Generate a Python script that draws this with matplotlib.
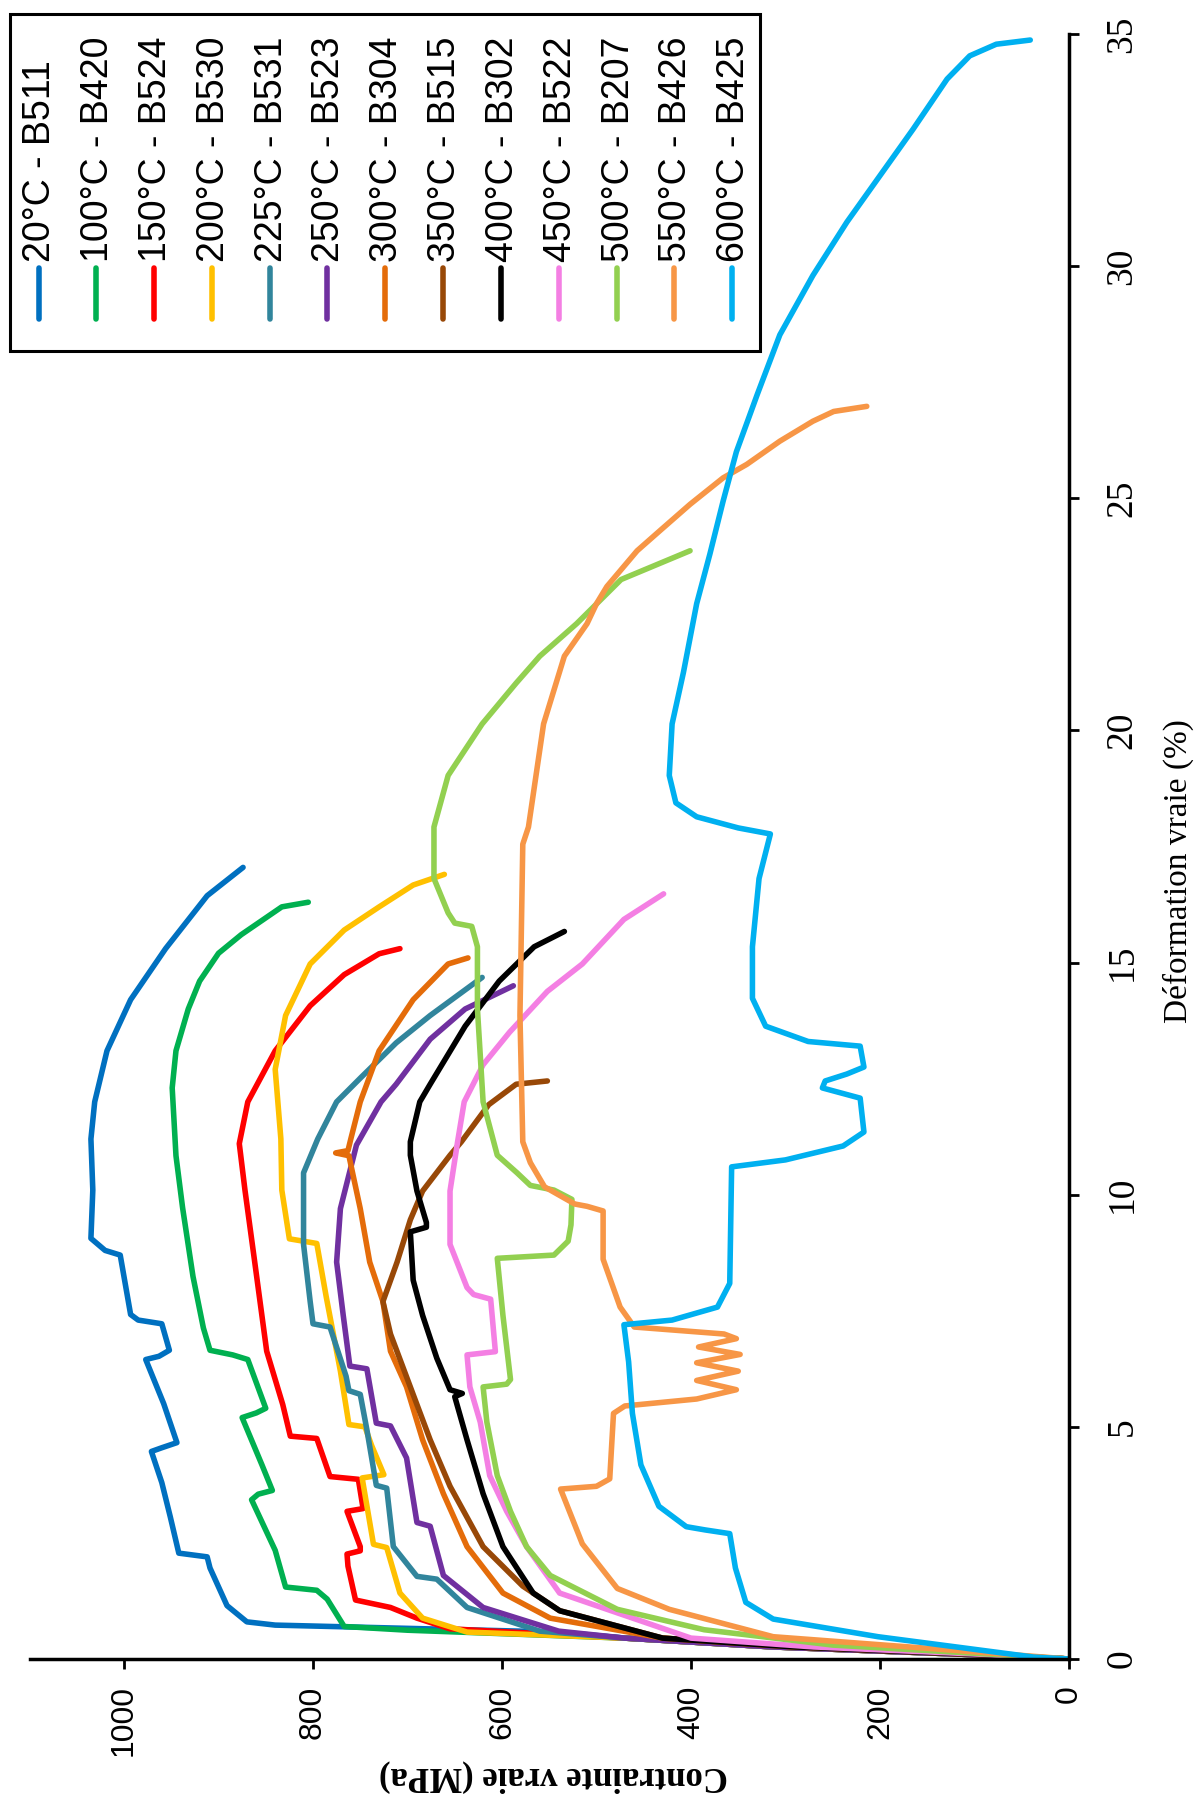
import matplotlib
matplotlib.use("Agg")
import matplotlib.pyplot as plt
from matplotlib.lines import Line2D
from matplotlib.patches import Rectangle

# ---- data : true strain (%) / true stress (MPa) ----
eps_20 = [0, 0.1, 0.26, 0.45, 0.58, 0.73, 0.8, 1.15, 1.96, 2.2, 2.28, 3.06, 3.8, 4.47, 4.55, 4.66, 5.5, 6.45, 6.52, 6.65,
          7.22, 7.3, 7.42, 8.7, 8.8, 9.06, 10.1, 11.2, 12.0, 13.1, 14.2, 15.3, 16.44, 17.05]
sig_20 = [0, 110, 313, 470, 540, 840, 870, 891, 909, 912, 942, 951, 960, 971, 960, 944, 958, 977, 963, 952,
          960, 985, 993, 1004, 1020, 1035, 1033, 1035, 1031, 1018, 993, 956, 912, 874]

eps_100 = [0, 0.1, 0.26, 0.45, 0.62, 0.7, 1.29, 1.48, 1.55, 2.34, 3.43, 3.55, 3.63, 4.18, 5.2, 5.3, 5.4, 6.45, 6.55, 6.65,
           7.13, 8.24, 9.72, 10.84, 11.57, 12.3, 13.1, 14.0, 14.6, 15.2, 15.6, 16.2, 16.3]
sig_100 = [0, 110, 313, 470, 700, 767, 785, 796, 829, 840, 865, 858, 843, 854, 875, 860, 850, 869, 885, 909,
           916, 927, 938, 945, 947, 949, 945, 932, 920, 900, 876, 833, 805]

eps_150 = [0, 0.1, 0.26, 0.45, 0.65, 0.88, 1.11, 1.27, 2.0, 2.26, 2.33, 2.42, 3.18, 3.24, 3.87, 3.93, 4.75, 4.8, 5.48, 6.63,
           8.6, 10.1, 11.1, 12.0, 13.1, 14.07, 14.74, 15.19, 15.3]
sig_150 = [0, 110, 313, 470, 655, 690, 718, 755, 763, 764, 750, 750, 764, 747, 752, 782, 796, 824, 832, 849,
           862, 872, 878, 869, 840, 803, 767, 730, 708]

eps_200 = [0, 0.1, 0.26, 0.45, 0.58, 0.88, 1.42, 2.4, 2.47, 3.9, 3.97, 4.6, 5.0, 5.05, 6.2, 7.8, 8.95, 9.05, 10.1, 11.2,
           12.7, 13.86, 14.97, 15.7, 16.2, 16.67, 16.9]
sig_200 = [0, 110, 313, 470, 637, 684, 708, 722, 736, 748, 725, 738, 745, 762, 771, 786, 796, 825, 833, 834,
           840, 829, 803, 767, 730, 694, 661]

eps_225 = [0, 0.1, 0.26, 0.45, 0.6, 1.11, 1.72, 1.78, 2.42, 3.68, 3.74, 4.94, 5.7, 5.78, 6.09, 7.15, 7.22, 7.7, 8.93, 10.47,
           11.2, 12.0, 12.53, 13.27, 13.86, 14.68]
sig_225 = [0, 110, 313, 470, 560, 637, 669, 690, 715, 722, 733, 743, 750, 762, 765, 782, 800, 803, 810, 810,
           795, 775, 749, 712, 676, 621]

eps_250 = [0, 0.1, 0.26, 0.45, 0.6, 1.11, 1.8, 2.86, 2.94, 4.33, 5.02, 5.08, 6.25, 6.31, 7.4, 8.55, 9.7, 11.07, 12.0, 12.38,
           13.35, 14.0, 14.5]
sig_250 = [0, 110, 313, 470, 540, 620, 662, 676, 690, 701, 718, 733, 743, 761, 768, 775, 771, 754, 728, 712,
           676, 639, 588]

eps_300 = [0, 0.1, 0.26, 0.45, 0.88, 1.42, 2.42, 3.56, 4.72, 5.86, 6.63, 7.7, 8.55, 9.7, 10.84, 10.9, 10.95, 11.2, 12.0, 13.1,
           14.2, 14.97, 15.1]
sig_300 = [0, 100, 290, 430, 549, 599, 637, 662, 684, 701, 718, 726, 740, 750, 762, 776, 763, 760, 750, 730,
           694, 657, 636]

eps_350 = [0, 0.1, 0.26, 0.45, 1.04, 1.57, 2.42, 3.72, 4.72, 5.86, 7.0, 7.7, 8.55, 9.46, 10.08, 10.85, 11.14, 11.94, 12.38, 12.45]
sig_350 = [0, 100, 290, 430, 539, 578, 620, 655, 676, 697, 718, 726, 711, 697, 684, 655, 643, 614, 585, 552]

eps_400 = [0, 0.1, 0.26, 0.45, 1.04, 1.42, 2.42, 3.56, 4.72, 5.65, 5.72, 5.8, 6.48, 7.4, 8.16, 9.2, 9.3, 9.4, 10.08, 10.85,
           11.14, 12.0, 12.38, 13.63, 14.6, 15.34, 15.67]
sig_400 = [0, 100, 290, 430, 539, 567, 599, 620, 637, 650, 642, 655, 669, 684, 694, 697, 680, 680, 690, 697,
           697, 687, 676, 639, 603, 566, 534]

eps_450 = [0, 0.1, 0.26, 0.45, 1.42, 2.42, 3.18, 3.95, 5.1, 5.86, 6.55, 6.62, 7.75, 7.85, 8.0, 8.93, 10.08, 11.14, 12.0, 12.8,
           13.5, 14.38, 14.97, 15.93, 16.48]
sig_450 = [0, 90, 270, 400, 539, 574, 595, 613, 623, 634, 637, 607, 612, 630, 637, 655, 655, 647, 640, 620,
           592, 552, 515, 471, 429]

eps_500 = [0, 0.1, 0.3, 0.63, 1.07, 1.8, 2.42, 3.18, 3.95, 5.1, 5.86, 5.92, 6.02, 7.4, 8.63, 8.7, 9.0, 9.35, 9.9, 10.1,
           10.2, 10.47, 10.85, 12.0, 14.0, 15.34, 15.78, 15.85, 16.07, 16.81, 17.92, 19.03, 20.14, 21.02, 21.6, 22.3,
           23.25, 23.87]
sig_500 = [0, 80, 250, 386, 478, 549, 574, 591, 605, 616, 620, 595, 591, 599, 605, 545, 530, 527, 526, 545,
           570, 584, 605, 620, 626, 626, 632, 650, 657, 672, 672, 657, 621, 585, 560, 521,
           474, 401]

eps_550 = [0, 0.2, 0.48, 1.07, 1.52, 2.48, 3.66, 3.72, 3.88, 5.29, 5.45, 5.6, 5.8, 6.0, 6.2, 6.38, 6.56, 6.72, 6.9, 7.0,
           7.15, 7.58, 8.61, 9.65, 9.75, 9.8, 10.17, 10.69, 11.14, 13.86, 17.55, 17.92, 20.14, 21.6, 22.3, 22.73,
           23.1, 23.87, 24.3, 24.87, 25.44, 25.73, 26.23, 26.66, 26.87, 26.98]
sig_550 = [0, 130, 313, 423, 478, 515, 538, 500, 486, 482, 470, 394, 352, 394, 350, 394, 348, 392, 352, 365,
           460, 475, 493, 493, 510, 523, 555, 570, 578, 581, 578, 572, 556, 534, 510, 500,
           489, 457, 433, 401, 366, 341, 306, 271, 249, 214]

eps_600 = [0, 0.04, 0.48, 0.86, 1.22, 1.96, 2.7, 2.78, 2.85, 3.29, 4.18, 5.29, 6.4, 7.2, 7.3, 7.58, 8.09, 10.6, 10.75, 11.05,
           11.35, 12.08, 12.3, 12.45, 12.6, 12.75, 13.2, 13.3, 13.63, 14.23, 15.34, 16.81, 17.77, 17.9, 18.14, 18.44,
           19.03, 20.14, 21.25, 22.73, 23.8, 24.94, 26.0, 27.23, 28.52, 29.8, 30.95, 31.95, 32.95, 34.03, 34.53,
           34.78, 34.87]
sig_600 = [0, 37, 202, 313, 342, 353, 359, 385, 405, 434, 453, 462, 466, 471, 420, 372, 359, 357, 300, 239,
           217, 221, 261, 258, 235, 217, 221, 276, 321, 335, 335, 328, 316, 350, 394, 416,
           423, 420, 408, 394, 380, 366, 352, 330, 306, 271, 235, 200, 165, 129, 105,
           77, 41]

labels = ['20°C - B511', '100°C - B420', '150°C - B524', '200°C - B530', '225°C - B531', '250°C - B523',
          '300°C - B304', '350°C - B515', '400°C - B302', '450°C - B522', '500°C - B207', '550°C - B426',
          '600°C - B425']
colors = ['#0070C0', '#00B050', '#FF0000', '#FFC000', '#31859C', '#7030A0', '#E46C0A', '#984807',
          '#000000', '#F47FE3', '#92D050', '#F79646', '#00B0F0']

curves = [(eps_20, sig_20), (eps_100, sig_100), (eps_150, sig_150), (eps_200, sig_200), (eps_225, sig_225),
          (eps_250, sig_250), (eps_300, sig_300), (eps_350, sig_350), (eps_400, sig_400), (eps_450, sig_450),
          (eps_500, sig_500), (eps_550, sig_550), (eps_600, sig_600)]

SERIF = ['Liberation Serif', 'DejaVu Serif']
SANS = ['Liberation Sans', 'DejaVu Sans']

W, H = 1194, 1796
fig = plt.figure(figsize=(W / 100, H / 100), dpi=100)

# the chart is drawn "rotated": stress runs right->left, strain bottom->top
x0, x1 = 29.5, 1069      # stress 1100 .. 0 (pixels)
y0, y1 = 1659, 34        # strain 0 .. 35 (pixels from top)
ax = fig.add_axes([x0 / W, (H - y0) / H, (x1 - x0) / W, (y0 - y1) / H])

for (e, s), c in zip(curves, colors):
    ax.plot(s, e, color=c, lw=4, solid_joinstyle='round', solid_capstyle='round')

ax.set_xlim(1100, 0)
ax.set_ylim(0, 35)
ax.spines['left'].set_visible(False)
ax.spines['top'].set_visible(False)
for sp in ('right', 'bottom'):
    ax.spines[sp].set_linewidth(2.5)

ax.yaxis.tick_right()
ax.set_yticks(range(0, 36, 5))
ax.set_xticks(range(0, 1001, 200))
ax.tick_params(axis='y', direction='out', length=7, width=2, pad=19, labelsize=27, labelrotation=90)
ax.tick_params(axis='x', direction='out', length=7, width=2, pad=12, labelsize=23, labelrotation=90)
for t in ax.get_yticklabels():
    t.set_family(SERIF)
    t.set_va('center')
for t in ax.get_xticklabels():
    t.set_family(SANS)

fig.text(1178 / W, 1 - 871 / H, 'Déformation vraie (%)', rotation=90, ha='center', va='center',
         fontsize=24, family=SERIF)
fig.text(554 / W, 1 - 1776 / H, 'Contrainte vraie (MPa)', rotation=180, ha='center', va='center',
         fontsize=25, family=SERIF, fontweight='bold')

# legend (rotated, drawn by hand)
fig.patches.append(Rectangle((10 / W, 1 - 351 / H), 750 / W, 337 / H, transform=fig.transFigure,
                             fill=False, edgecolor='black', lw=2.2))
for i, (lab, c) in enumerate(zip(labels, colors)):
    xc = (38.5 + i * 57.8) / W
    fig.lines.append(Line2D([xc, xc], [1 - 319 / H, 1 - 268 / H], transform=fig.transFigure,
                            color=c, lw=4, solid_capstyle='round'))
    fig.text(xc + 2 / W, 1 - 262 / H, lab, rotation=90, ha='center', va='bottom', fontsize=27, family=SANS)

fig.savefig('out.png', dpi=100)
